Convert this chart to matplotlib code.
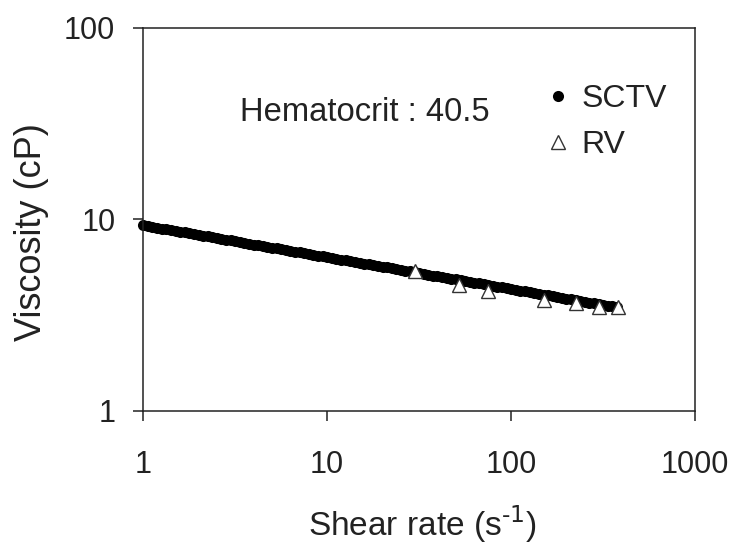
import matplotlib.pyplot as plt
from matplotlib.ticker import FixedLocator, NullLocator

plt.rcParams['font.family'] = ['Liberation Sans', 'DejaVu Sans']

sctv_rate = [1.00, 1.06, 1.12, 1.19, 1.26, 1.33, 1.41, 1.50, 1.58, 1.68,
             1.78, 1.88, 2.00, 2.11, 2.24, 2.37, 2.51, 2.66, 2.82, 2.99,
             3.16, 3.35, 3.55, 3.76, 3.98, 4.22, 4.47, 4.73, 5.01, 5.31,
             5.62, 5.96, 6.31, 6.68, 7.08, 7.50, 7.94, 8.41, 8.91, 9.44,
             10.0, 10.6, 11.2, 11.9, 12.6, 13.3, 14.1, 15.0, 15.8, 16.8,
             17.8, 18.8, 20.0, 21.1, 22.4, 23.7, 25.1, 26.6, 28.2, 29.9,
             31.6, 33.5, 35.5, 37.6, 39.8, 42.2, 44.7, 47.3, 50.1, 53.1,
             56.2, 59.6, 63.1, 66.8, 70.8, 75.0, 79.4, 84.1, 89.1, 94.4,
             100, 106, 112, 119, 126, 133, 141, 150, 158, 168,
             178, 188, 200, 211, 224, 237, 251, 266, 282, 299,
             316, 335, 355, 376]
sctv_visc = [9.30, 9.21, 9.12, 9.04, 8.95, 8.87, 8.78, 8.70, 8.62, 8.54,
             8.45, 8.37, 8.29, 8.21, 8.14, 8.06, 7.98, 7.91, 7.83, 7.76,
             7.68, 7.61, 7.54, 7.47, 7.39, 7.32, 7.25, 7.19, 7.12, 7.05,
             6.98, 6.92, 6.85, 6.79, 6.72, 6.66, 6.60, 6.53, 6.47, 6.41,
             6.35, 6.29, 6.23, 6.17, 6.11, 6.05, 5.99, 5.94, 5.88, 5.83,
             5.77, 5.72, 5.66, 5.61, 5.55, 5.50, 5.45, 5.40, 5.35, 5.30,
             5.25, 5.19, 5.14, 5.09, 5.04, 5.00, 4.95, 4.90, 4.86, 4.81,
             4.76, 4.72, 4.67, 4.63, 4.59, 4.54, 4.50, 4.46, 4.41, 4.37,
             4.33, 4.29, 4.25, 4.21, 4.17, 4.13, 4.09, 4.05, 4.01, 3.97,
             3.93, 3.90, 3.86, 3.82, 3.79, 3.75, 3.72, 3.68, 3.65, 3.61,
             3.58, 3.54, 3.51, 3.48]

# RV (rotational viscometer)
rv_rate = [30, 52, 75, 150, 225, 300, 380]
rv_visc = [5.35, 4.55, 4.25, 3.80, 3.68, 3.48, 3.48]

hct_text = "Hematocrit : 40.5"
x_ticks = [1, 10, 100, 1000]
y_ticks = [1, 10, 100]

fig = plt.figure(figsize=(7.34, 5.45), dpi=100)
ax = fig.add_axes([0.195, 0.246, 0.752, 0.703])

ax.plot(sctv_rate, sctv_visc, 'o', color='black', markersize=8,
        markeredgewidth=0, label='SCTV', zorder=2, clip_on=False)
ax.plot(rv_rate, rv_visc, '^', color='white', markeredgecolor='#333333',
        markersize=10, markeredgewidth=1.0, label='RV', zorder=3)

ax.set_xscale('log')
ax.set_yscale('log')
ax.set_xlim(1, 1000)
ax.set_ylim(1, 100)
ax.xaxis.set_major_locator(FixedLocator(x_ticks))
ax.yaxis.set_major_locator(FixedLocator(y_ticks))
ax.xaxis.set_minor_locator(NullLocator())
ax.yaxis.set_minor_locator(NullLocator())
ax.set_xticklabels([str(t) for t in x_ticks])
ax.set_yticklabels([str(t) for t in y_ticks])

ax.tick_params(axis='both', direction='out', length=7, width=1.1,
               labelsize=22, colors='#222222')
ax.tick_params(axis='x', pad=21)
ax.tick_params(axis='y', pad=13)
for sp in ax.spines.values():
    sp.set_linewidth(1.1)
    sp.set_color('#222222')

ax.set_xlabel(r'Shear rate (s$^{\text{-}1}$)', fontsize=24, color='#222222')
ax.set_ylabel('Viscosity (cP)', fontsize=26, color='#222222')
ax.xaxis.set_label_coords(0.505, -0.242)
ax.yaxis.set_label_coords(-0.170, 0.467)

ax.text(3.37, 36.0, hct_text, fontsize=23.6, color='#222222', va='center',
        ha='left')

ax.legend(loc='upper left', bbox_to_anchor=(0.700, 0.895), frameon=False,
          fontsize=23, borderpad=0, handletextpad=0.33, labelspacing=0.5,
          handlelength=0.8, markerscale=1.0, labelcolor='#222222')

fig.savefig('out.png', dpi=100)
